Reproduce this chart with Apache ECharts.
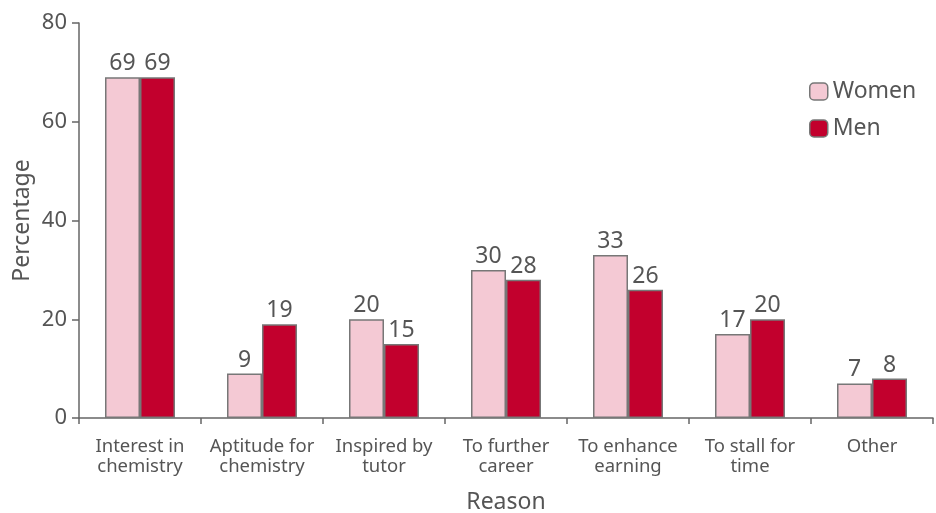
<!DOCTYPE html>
<html lang="en">
<head>
  <meta charset="UTF-8">
  <title>Reason by gender</title>
  <script src="https://cdn.jsdelivr.net/npm/echarts@6/dist/echarts.min.js"></script>
  <style>html,body{margin:0;padding:0;background:#fff;}</style>
</head>
<body>
<div id="chart" style="width: 936px; height: 513px;"></div>

<script>
  // data
  var categories = ['Interest in\nchemistry', 'Aptitude for\nchemistry', 'Inspired by\ntutor',
    'To further\ncareer', 'To enhance\nearning', 'To stall for\ntime', 'Other'];
  var women = [69, 9, 20, 30, 33, 17, 7];
  var men = [69, 19, 15, 28, 26, 20, 8];
  var yTicks = [0, 20, 40, 60, 80];

  var textColor = '#555';
  var axisColor = '#666';
  var font = 'Noto Sans';

  var myChart = echarts.init(document.getElementById('chart'));

  function barSeries(name, data, color) {
    return {
      name: name,
      type: 'bar',
      data: data,
      barWidth: 35,
      barGap: '0%',
      itemStyle: { color: color, borderColor: '#777', borderWidth: 1.5 },
      label: {
        show: true,
        position: 'top',
        distance: 2,
        color: textColor,
        fontSize: 23,
        fontFamily: font
      }
    };
  }

  var option = {
    animation: false,
    textStyle: { fontFamily: font },
    grid: { left: 79, right: 3, top: 23, bottom: 95, containLabel: false, outerBoundsMode: 'none' },
    legend: {
      data: ['Women', 'Men'],
      orient: 'vertical',
      left: 804,
      top: 75,
      itemWidth: 18,
      itemHeight: 17,
      itemGap: 14,
      textStyle: { color: textColor, fontSize: 23, fontFamily: font },
      itemStyle: { borderColor: '#777', borderWidth: 1.5 }
    },
    xAxis: {
      type: 'category',
      data: categories,
      name: 'Reason',
      nameLocation: 'middle',
      nameGap: 73,
      nameMoveOverlap: false,
      nameTextStyle: { color: textColor, fontSize: 23, fontFamily: font },
      axisLine: { lineStyle: { color: axisColor, width: 1.5 } },
      axisTick: { show: true, alignWithLabel: false, length: 6, lineStyle: { color: axisColor, width: 1.5 } },
      axisLabel: { color: textColor, fontSize: 18.5, lineHeight: 20, margin: 19, interval: 0, fontFamily: font }
    },
    yAxis: {
      type: 'value',
      min: yTicks[0],
      max: yTicks[yTicks.length - 1],
      interval: 20,
      name: 'Percentage',
      nameLocation: 'middle',
      nameGap: 45,
      nameMoveOverlap: false,
      nameTextStyle: { color: textColor, fontSize: 23, fontFamily: font },
      axisLine: { show: true, lineStyle: { color: axisColor, width: 1.5 } },
      axisTick: { show: true, length: 7, lineStyle: { color: axisColor, width: 1.5 } },
      axisLabel: { color: textColor, fontSize: 22, margin: 12, fontFamily: font },
      splitLine: { show: false }
    },
    series: [
      barSeries('Women', women, '#f4c9d4'),
      barSeries('Men', men, '#c2002d')
    ]
  };

  myChart.setOption(option);
</script>
</body>
</html>
